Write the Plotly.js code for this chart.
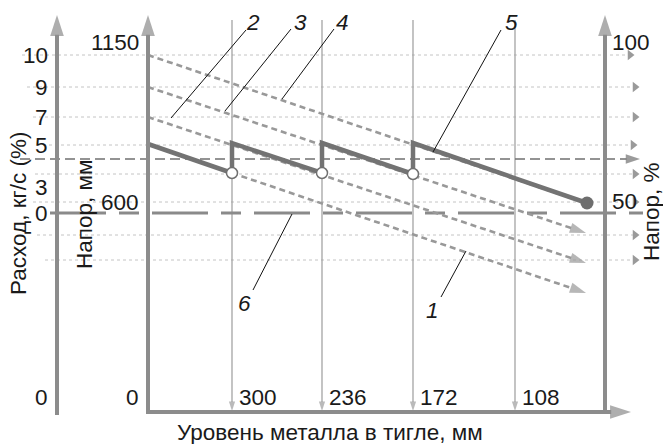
<!DOCTYPE html>
<html>
<head>
<meta charset="utf-8">
<script src="https://cdn.plot.ly/plotly-3.0.1.min.js"></script>
<style>html,body{margin:0;padding:0;background:#fff;}#chart{width:663px;height:444px;}</style>
</head>
<body>
<div id="chart"></div>
<script>
// Schematic coordinate frame: x = distance along the level axis from the origin,
// y = height above the baseline (schematic units).
const levelTickLabels = ['300', '236', '172', '108'];
const levelTickX = [84, 174, 265, 367];

const headMmTickLabels = ['1150', '600', '0'];
const headMmTickY = [370, 210, 15];

const flowTickLabels = ['10', '9', '7', '5', '3', '0', '0'];
const flowTickY = [357, 325, 295, 267, 225, 199, 15];

const headPctTickLabels = ['100', '50'];
const headPctTickY = [370, 211];

const gridY = [357, 325, 295, 267, 238, 210, 177, 152];
const gridStartX = [-126, -121, -115, -111, -113, -115, -111, -103];
const gridEndX = [484, 489, 489, 487, 489, 489, 489, 489];

const refDashY = 253;           // dashed reference level
const line6Y = 199;             // curve 6 (long-dash)

// Curves 1-4 (dotted, parallel)
const curve1X = [84, 438],  curve1Y = [239, 119];
const curve2X = [0, 438],   curve2Y = [295, 149];
const curve3X = [0, 438],   curve3Y = [325, 179];
const curve4X = [0, 432],   curve4Y = [357, 211];

// Curve 5 (sawtooth, thick)
const curve5X = [0, 84, 84, 174, 174, 265, 265, 439];
const curve5Y = [268, 239, 269, 239, 269, 238, 269, 209];
const switchX = [84, 174, 265];
const switchY = [239, 239, 238];
const endX = [439], endY = [209];

// Curve labels and their leader lines
const labelText = ['1', '2', '3', '4', '5', '6'];
const labelX = [284, 105, 152, 194, 363, 96];
const labelY = [102, 390, 390, 390, 390, 109];
const leaderFromX = [293, 98, 143, 186, 353, 105];
const leaderFromY = [115, 382, 383, 383, 382, 122];
const leaderToX = [318, 23, 77, 134, 285, 144];
const leaderToY = [161, 294, 301, 313, 260, 198];

const FONT = 'Liberation Sans, Arial, sans-serif';
const traces = [];

function arrowLine(xs, ys, color, width, dash, headSize, symbol) {
  const n = xs.length;
  const sizes = xs.map((_, i) => (i === n - 1 ? headSize : 0));
  const syms = xs.map((_, i) => (i === n - 1 ? (symbol || 'arrow') : 'circle'));
  return {
    type: 'scatter', mode: headSize ? 'lines+markers' : 'lines',
    x: xs, y: ys, hoverinfo: 'skip',
    line: {color: color, width: width, dash: dash || 'solid'},
    marker: {symbol: syms, size: sizes, color: color, angleref: 'previous', line: {width: 0}}
  };
}

// light dotted grid lines with small arrows
for (let i = 0; i < gridY.length; i++) {
  traces.push(arrowLine([gridStartX[i], gridEndX[i]], [gridY[i], gridY[i]], '#c4c4c4', 1, '3px,3px', 0));
  traces.push({type: 'scatter', mode: 'markers', x: [gridEndX[i] - 2], y: [gridY[i]], hoverinfo: 'skip',
    marker: {symbol: 'triangle-right', size: 9, color: '#9a9a9a'}});
}

// vertical level lines with arrow at bottom
for (let i = 0; i < levelTickX.length; i++) {
  traces.push(arrowLine([levelTickX[i], levelTickX[i]], [392, 1], '#9c9c9c', 1.2, 'solid', 10));
}

// dashed reference line
traces.push(arrowLine([-128, 492], [refDashY, refDashY], '#707070', 1.4, '10px,5px', 15));

// curve 6
traces.push(arrowLine([-98, 495], [line6Y, line6Y], '#8a8a8a', 3.2, '56px,13px,20px,13px', 0));

// curves 1-4
const dotColor = '#999999';
traces.push(arrowLine(curve4X, curve4Y, dotColor, 2.6, '6px,4px', 0));
traces.push(arrowLine(curve3X, curve3Y, dotColor, 2.6, '6px,4px', 17));
traces.push(arrowLine(curve2X, curve2Y, dotColor, 2.6, '6px,4px', 17));
traces.push(arrowLine(curve1X, curve1Y, dotColor, 2.6, '6px,4px', 17));

// curve 5
traces.push(arrowLine(curve5X, curve5Y, '#737373', 4.5, 'solid', 0));
traces.push({type: 'scatter', mode: 'markers', x: endX, y: endY, hoverinfo: 'skip',
  marker: {symbol: 'circle', size: 13, color: '#6e6e6e'}});
traces.push({type: 'scatter', mode: 'markers', x: switchX, y: switchY, hoverinfo: 'skip',
  marker: {symbol: 'circle', size: 11, color: '#ffffff', line: {color: '#707070', width: 1.5}}});

// leader lines
for (let i = 0; i < labelText.length; i++) {
  traces.push(arrowLine([leaderFromX[i], leaderToX[i]], [leaderFromY[i], leaderToY[i]], '#111111', 1, 'solid', 0));
}

// axes
const axisColor = '#8c8c8c';
traces.push(arrowLine([-91, -91], [-3, 397], axisColor, 4, 'solid', 22));
traces.push(arrowLine([0, 0], [0, 397], axisColor, 4, 'solid', 22));
traces.push(arrowLine([457, 457], [0, 397], axisColor, 4, 'solid', 22));
traces.push(arrowLine([-2, 483], [0, 0], axisColor, 4, 'solid', 22));

const annotations = [];
function txt(x, y, t, xa, extra) {
  annotations.push(Object.assign({x: x, y: y, xref: 'x', yref: 'y', text: t, showarrow: false,
    xanchor: xa || 'center', yanchor: 'middle', font: {family: FONT, size: 22.5, color: '#1a1a1a'}}, extra || {}));
}
for (let i = 0; i < levelTickLabels.length; i++) txt(levelTickX[i] + 5, 15, levelTickLabels[i], 'left');
for (let i = 0; i < headMmTickLabels.length; i++) txt(-7, headMmTickY[i], headMmTickLabels[i], 'right');
for (let i = 0; i < flowTickLabels.length; i++) txt(-98, flowTickY[i], flowTickLabels[i], 'right');
for (let i = 0; i < headPctTickLabels.length; i++) txt(462, headPctTickY[i], headPctTickLabels[i], 'left');
for (let i = 0; i < labelText.length; i++) txt(labelX[i], labelY[i], '<i>' + labelText[i] + '</i>', 'center');

txt(182, -20, 'Уровень металла в тигле, мм', 'center');
txt(-130, 198, 'Расход, кг/с (%)', 'center', {textangle: -90});
txt(-64, 197, 'Напор, мм', 'center', {textangle: -90});
txt(503, 200, 'Напор, %', 'center', {textangle: -90});

const layout = {
  width: 663, height: 444,
  margin: {l: 0, r: 0, t: 0, b: 0},
  paper_bgcolor: '#ffffff', plot_bgcolor: '#ffffff',
  showlegend: false,
  xaxis: {range: [-148, 515], visible: false, fixedrange: true},
  yaxis: {range: [-32, 412], visible: false, fixedrange: true},
  annotations: annotations
};
Plotly.newPlot('chart', traces, layout, {staticPlot: true, displayModeBar: false});
</script>
</body>
</html>
